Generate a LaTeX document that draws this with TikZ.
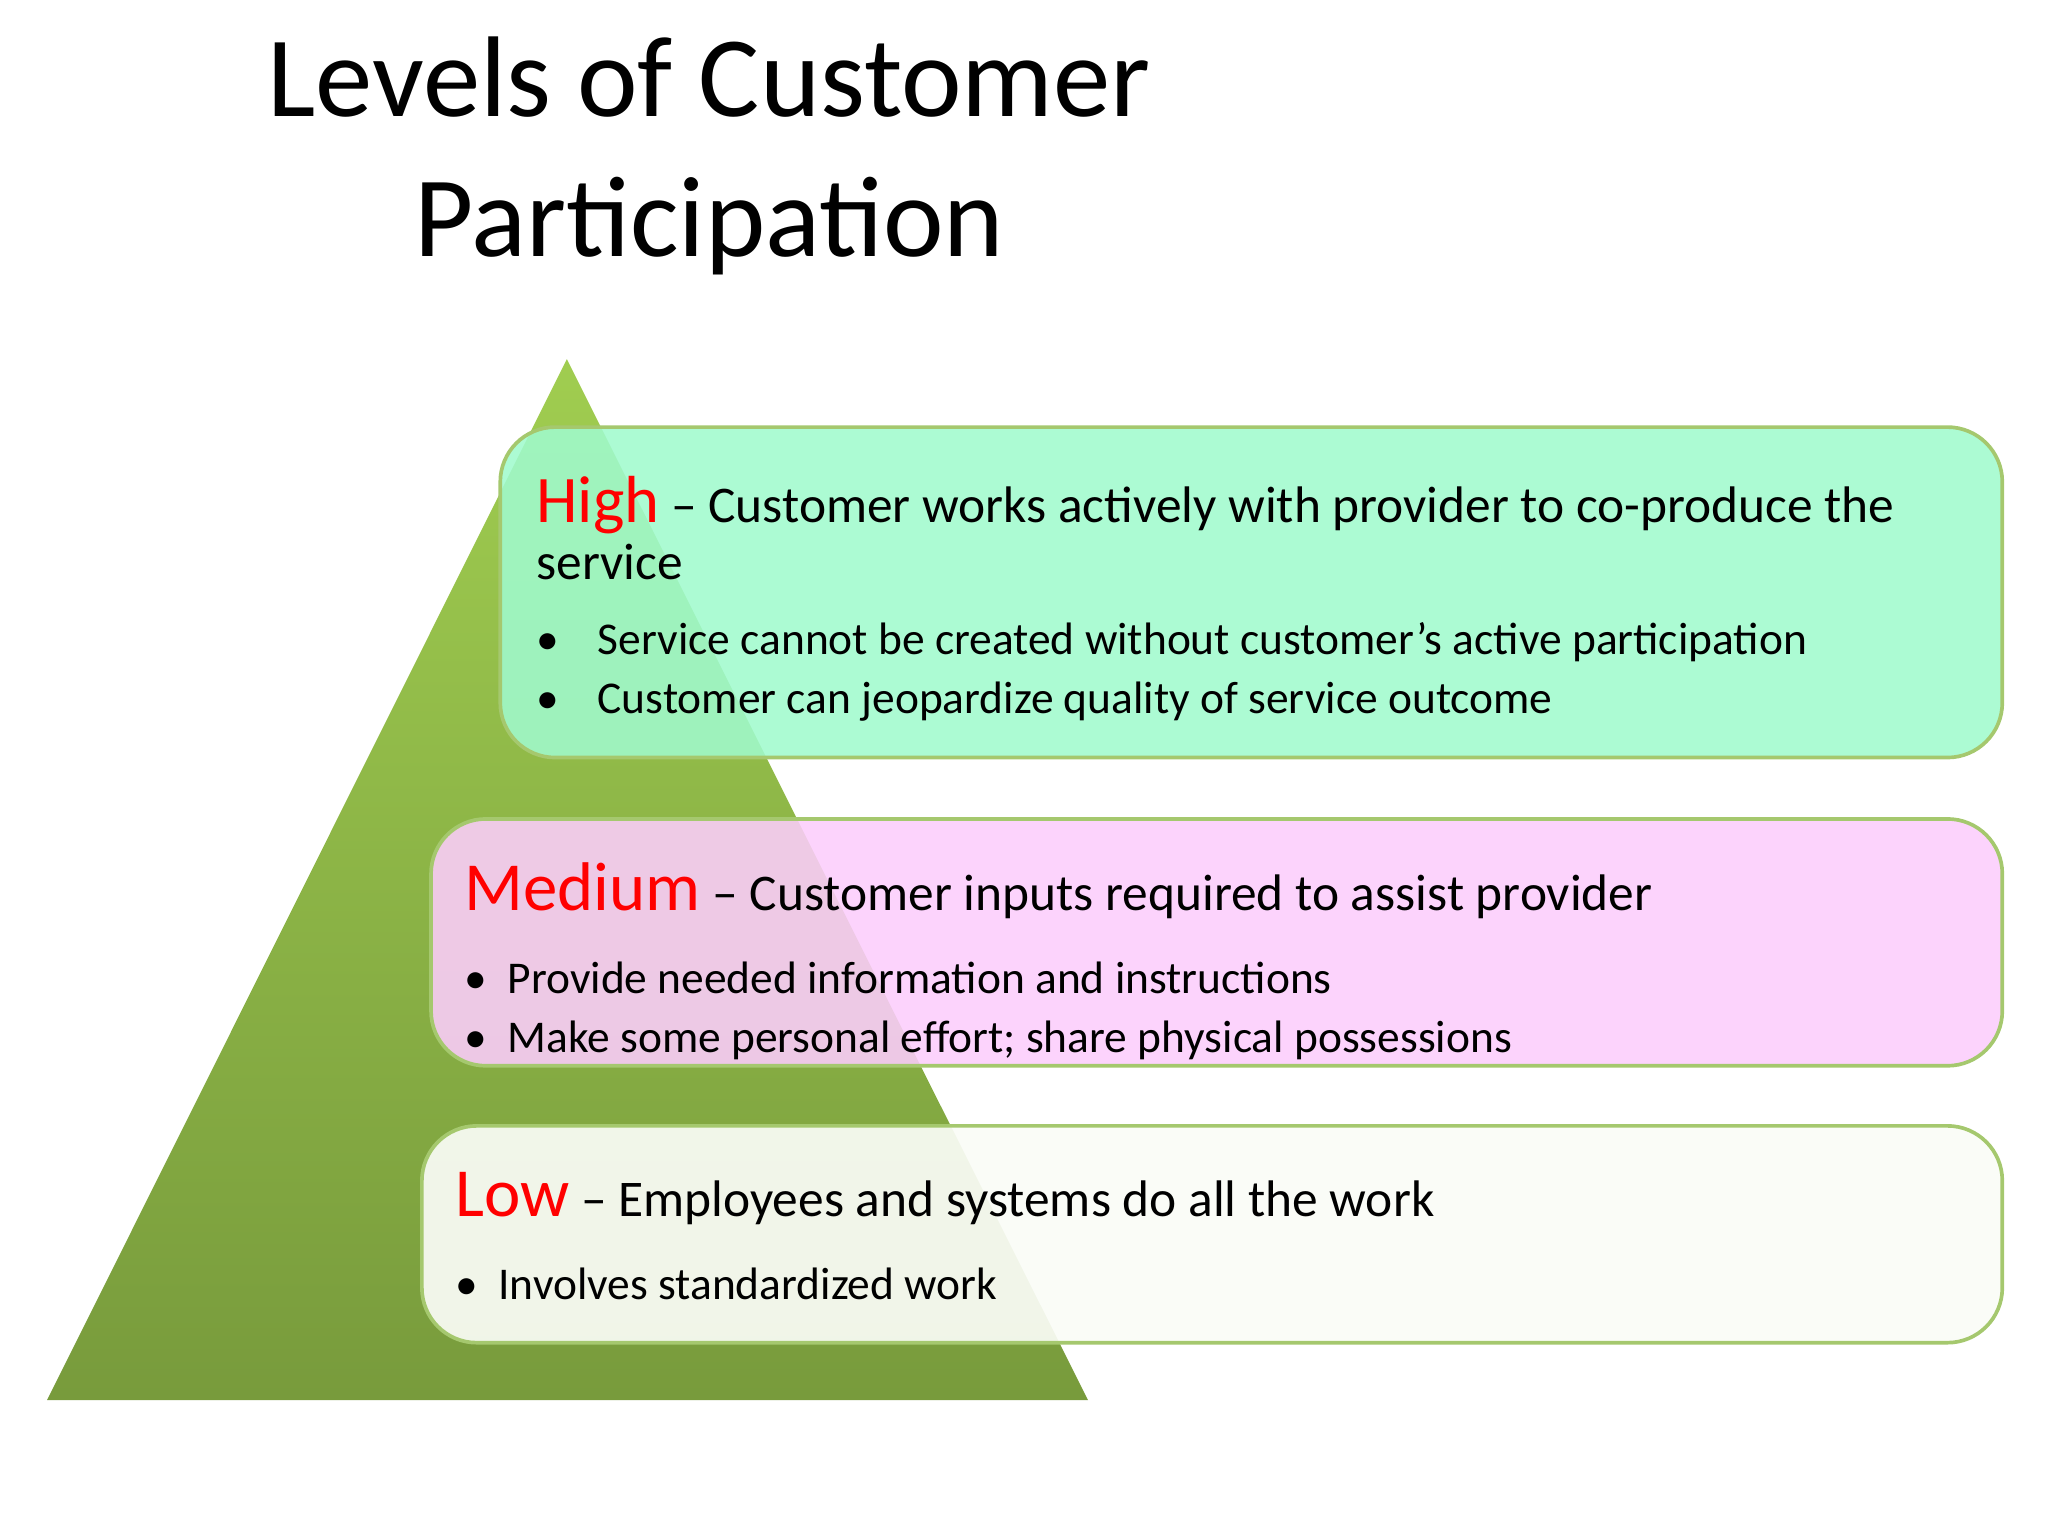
\documentclass[tikz,border=0pt]{standalone}
\usepackage{fontspec}
\setmainfont{Carlito}
\begin{document}
\begin{tikzpicture}[x=1cm,y=-1cm,
  lvl/.style={rounded corners=0.42cm, draw={rgb,255:red,165;green,200;blue,110}, line width=0.8pt, fill opacity=0.88},
  head/.style={anchor=base west, inner sep=0pt, font=\fontsize{11.2}{12}\selectfont},
  bul/.style={anchor=base west, inner sep=0pt, font=\fontsize{9.9}{11}\selectfont},
  key/.style={text={rgb,255:red,235;green,20;blue,20}}]
\useasboundingbox (0,0) rectangle (15.68,11.76);
\definecolor{gtop}{RGB}{160,205,80}
\definecolor{gbot}{RGB}{120,155,60}
\shade[top color=gtop, bottom color=gbot] (4.34,2.75) -- (8.33,10.72) -- (0.36,10.72) -- cycle;
\node[inner sep=0pt, font=\fontsize{25}{30.5}\selectfont, align=center] (title) at (5.43,1.19) {Levels of Customer\\Participation};
% boxes
\draw[lvl, fill={rgb,255:red,160;green,250;blue,205}] (3.83,3.27) rectangle (15.33,5.80);
\draw[lvl, fill={rgb,255:red,252;green,205;blue,252}] (3.30,6.27) rectangle (15.33,8.16);
\draw[lvl, fill={rgb,255:red,250;green,252;blue,246}, fill opacity=0.93] (3.23,8.62) rectangle (15.33,10.28);
% High
\node[head] (h1) at (4.10,4.00) {{\fontsize{14.5}{15}\selectfont\color{red}High} -- Customer works actively with provider to co-produce the};
\node[head] (h2) at (4.10,4.44) {service};
\node[bul] (h3) at (4.10,5.01) {\textbullet\hspace{0.85em}Service cannot be created without customer’s active participation};
\node[bul] (h4) at (4.10,5.46) {\textbullet\hspace{0.85em}Customer can jeopardize quality of service outcome};
% Medium
\node[head] (m1) at (3.55,6.97) {{\fontsize{15}{15}\selectfont\color{red}Medium} -- Customer inputs required to assist provider};
\node[bul] (m2) at (3.55,7.61) {\textbullet\hspace{0.45em}Provide needed information and instructions};
\node[bul] (m3) at (3.55,8.06) {\textbullet\hspace{0.45em}Make some personal effort; share physical possessions};
% Low
\node[head] (l1) at (3.48,9.31) {{\fontsize{15}{15}\selectfont\color{red}Low} -- Employees and systems do all the work};
\node[bul] (l2) at (3.48,9.95) {\textbullet\hspace{0.45em}Involves standardized work};
\end{tikzpicture}
\end{document}
